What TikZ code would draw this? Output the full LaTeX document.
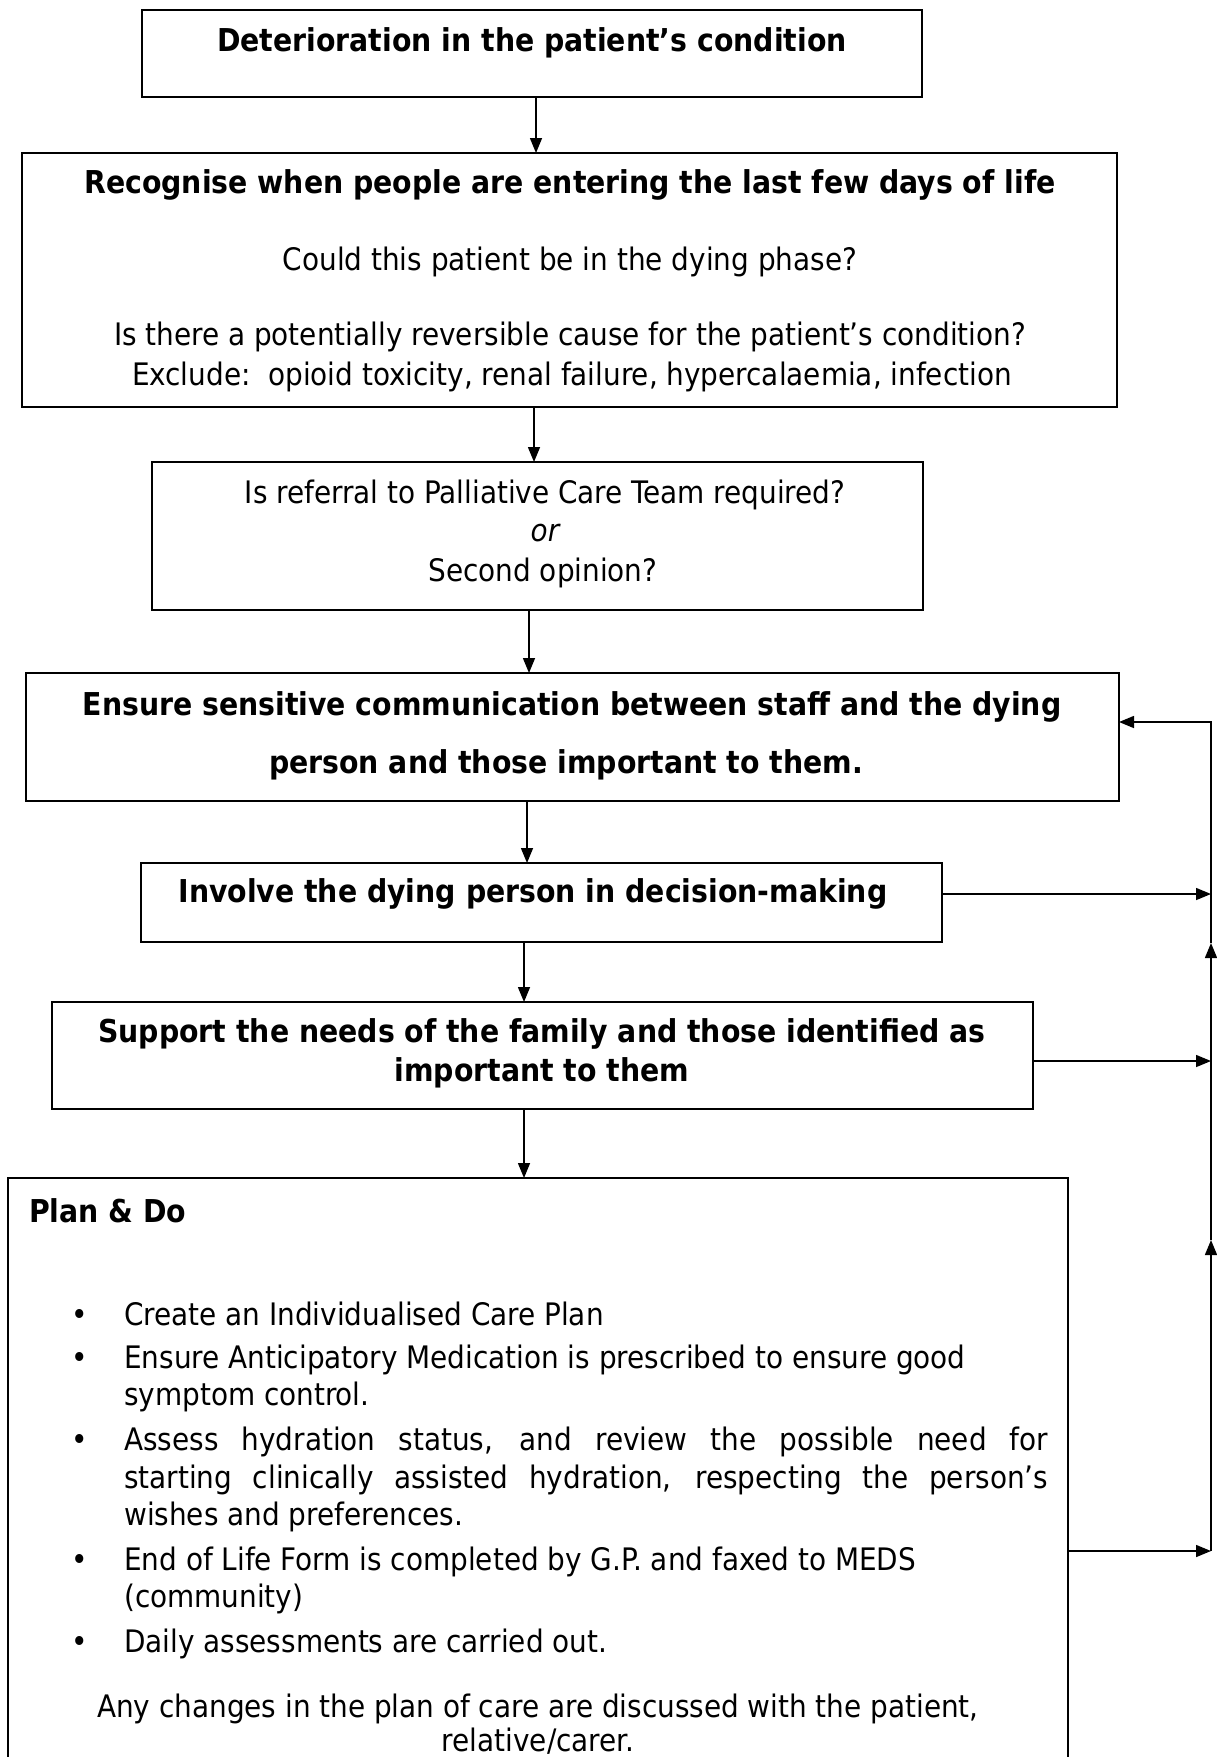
\documentclass[tikz,border=0pt]{standalone}
\usepackage{fontspec}
\setmainfont{DejaVu Sans Condensed}
\usetikzlibrary{arrows.meta}
\tikzset{
  box/.style={draw, line width=1.6pt, inner sep=0pt, outer sep=0pt, anchor=north west},
  txt/.style={anchor=base, inner sep=0pt, font=\fontsize{31}{37}\selectfont},
  txtl/.style={txt, anchor=base west},
  bld/.style={anchor=base, inner sep=0pt, font=\fontsize{31.5}{38}\selectfont\bfseries},
  bldl/.style={bld, anchor=base west},
  arr/.style={line width=1.5pt, -{Triangle[length=15pt,width=12pt]}},
  ln/.style={line width=1.5pt}
}
\begin{document}
\begin{tikzpicture}[x=1pt,y=-1pt]
\useasboundingbox (0,0) rectangle (1217,1757);
\clip (0,0) rectangle (1217,1757);
\fill[white] (0,0) rectangle (1217,1757);
% boxes
\node[box, minimum width=780pt, minimum height=87pt] (b1) at (142,10) {};
\node[box, minimum width=1095pt, minimum height=254pt] (b2) at (22,153) {};
\node[box, minimum width=771pt, minimum height=148pt] (b3) at (152,462) {};
\node[box, minimum width=1093pt, minimum height=128pt] (b4) at (26,673) {};
\node[box, minimum width=801pt, minimum height=79pt] (b5) at (141,863) {};
\node[box, minimum width=981pt, minimum height=107pt] (b6) at (52,1002) {};
\node[box, minimum width=1060pt, minimum height=640pt] (b7) at (8,1178) {};
% texts
\node[bld] (t1) at (532,51) {Deterioration in the patient’s condition};
\node[bld] (t2) at (570,193) {Recognise when people are entering the last few days of life};
\node[txt] (t3) at (570,270) {Could this patient be in the dying phase?};
\node[txt] (t4) at (570,345) {Is there a potentially reversible cause for the patient’s condition?};
\node[txt] (t5) at (572,385) {Exclude:\ \ opioid toxicity, renal failure, hypercalaemia, infection};
\node[txt] (t6) at (545,503) {Is referral to Palliative Care Team required?};
\node[txt, font=\fontsize{31}{37}\selectfont\itshape] (t7) at (545,541) {or};
\node[txt] (t8) at (543,581) {Second opinion?};
\node[bld] (t9) at (572,715) {Ensure sensitive communication between staff and the dying};
\node[bld] (t10) at (566,773) {person and those important to them.};
\node[bld] (t11) at (533,902) {Involve the dying person in decision-making};
\node[bld] (t12) at (542,1042) {Support the needs of the family and those identified as};
\node[bld] (t13) at (542,1081) {important to them};
\node[bldl] (t14) at (29,1222) {Plan \& Do};
% bullets
\node[txt] (d1) at (80,1325) {•};
\node[txt] (d2) at (80,1368) {•};
\node[txt] (d3) at (80,1450) {•};
\node[txt] (d4) at (80,1570) {•};
\node[txt] (d5) at (80,1652) {•};
\node[txtl] (l1) at (124,1325) {Create an Individualised Care Plan};
\node[txtl] (l2) at (124,1368) {Ensure Anticipatory Medication is prescribed to ensure good};
\node[txtl] (l3) at (124,1405) {symptom control.};
\node[txtl] (l4) at (124,1450) {\makebox[924pt][s]{Assess hydration status, and review the possible need for}};
\node[txtl] (l5) at (124,1488) {\makebox[924pt][s]{starting clinically assisted hydration, respecting the person’s}};
\node[txtl] (l6) at (124,1525) {wishes and preferences.};
\node[txtl] (l7) at (124,1570) {End of Life Form is completed by G.P. and faxed to MEDS};
\node[txtl] (l8) at (124,1607) {(community)};
\node[txtl] (l9) at (124,1652) {Daily assessments are carried out.};
\node[txt] (l10) at (538,1717) {Any changes in the plan of care are discussed with the patient,};
\node[txt] (l11) at (538,1751) {relative/carer.};
% main flow
\coordinate (x1) at (536,0);
\coordinate (x2) at (534,0);
\coordinate (x3) at (529,0);
\coordinate (x4) at (527,0);
\coordinate (x5) at (524,0);
\coordinate (x6) at (524,0);
\draw[arr] (x1 |- b1.south) -- (x1 |- b2.north);
\draw[arr] (x2 |- b2.south) -- (x2 |- b3.north);
\draw[arr] (x3 |- b3.south) -- (x3 |- b4.north);
\draw[arr] (x4 |- b4.south) -- (x4 |- b5.north);
\draw[arr] (x5 |- b5.south) -- (x5 |- b6.north);
\draw[arr] (x6 |- b6.south) -- (x6 |- b7.north);
% feedback rail
\coordinate (r4) at (1211,722);
\coordinate (r5) at (1211,894);
\coordinate (r6) at (1211,1061);
\coordinate (r7) at (1211,1551);
\coordinate (u1) at (1211,943);
\coordinate (u2) at (1211,1240);
\draw[arr] (b5.east |- r5) -- (r5);
\draw[arr] (b6.east |- r6) -- (r6);
\draw[arr] (b7.east |- r7) -- (r7);
\draw[arr] (r7) -- (u2);
\draw[arr] (u2) -- (u1);
\draw[arr] (u1) -- (r4) -- (b4.east |- r4);
\end{tikzpicture}
\end{document}
